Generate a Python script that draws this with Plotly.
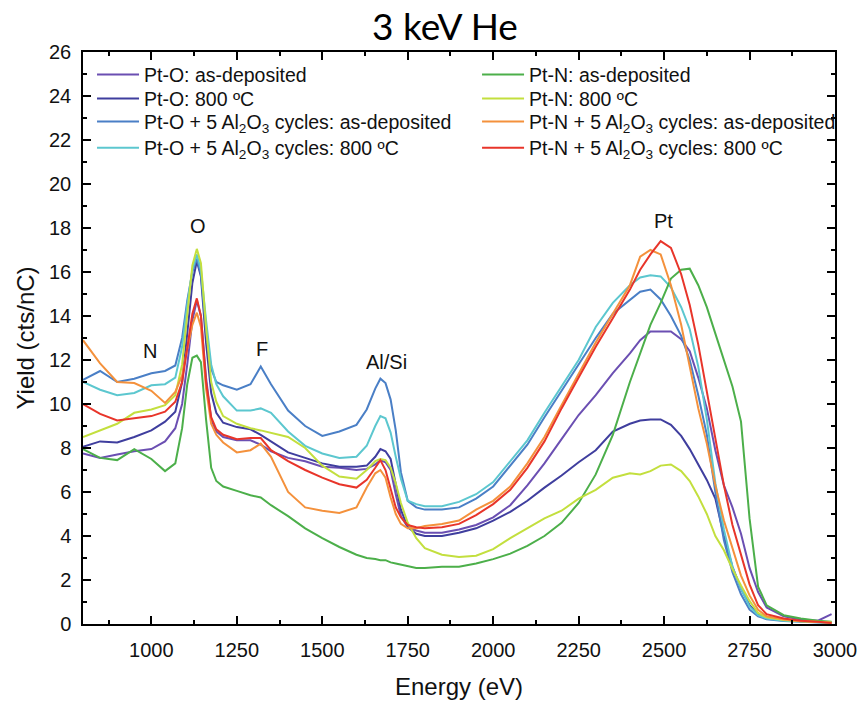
import plotly.graph_objects as go

# Common energy grid (eV)
energy = [800, 850, 900, 950, 1000, 1040, 1070, 1090, 1105, 1120, 1133, 1145, 1160, 1175, 1190, 1210,
          1250, 1290, 1320, 1350, 1400, 1450, 1500, 1550, 1600, 1630, 1655, 1670, 1685, 1700, 1715, 1730,
          1750, 1775, 1800, 1850, 1900, 1950, 2000, 2050, 2100, 2150, 2200, 2250, 2300, 2350, 2400, 2430,
          2460, 2490, 2520, 2550, 2575, 2600, 2625, 2650, 2675, 2700, 2725, 2750, 2775, 2800, 2850, 2900,
          2950, 2990]

# Yield (cts/nC) for each sample
pto_asdep = [7.75, 7.55, 7.7, 7.85, 7.95, 8.3, 8.9, 10.0, 11.8, 13.8, 14.7, 14.0, 11.2, 9.3, 8.75, 8.5,
             8.35, 8.35, 8.15, 7.85, 7.55, 7.4, 7.15, 7.1, 7.0, 7.05, 7.25, 7.45, 7.35, 7.0, 5.9, 4.9,
             4.4, 4.25, 4.15, 4.15, 4.3, 4.5, 4.85, 5.4, 6.3, 7.3, 8.4, 9.5, 10.4, 11.4, 12.3, 12.9,
             13.3, 13.3, 13.3, 12.95, 12.4, 11.2, 9.8, 7.9, 6.3, 5.3, 4.1, 2.55, 1.45, 0.75, 0.35, 0.2,
             0.15, 0.45]
pto_800 = [8.05, 8.3, 8.25, 8.5, 8.8, 9.2, 9.65, 11.0, 13.2, 15.5, 16.5, 15.8, 12.8, 10.5, 9.6, 9.15,
           8.95, 8.85, 8.6, 8.3, 7.8, 7.55, 7.3, 7.15, 7.15, 7.2, 7.6, 7.95, 7.85, 7.5, 6.4, 5.2,
           4.4, 4.1, 4.0, 4.0, 4.15, 4.35, 4.7, 5.1, 5.6, 6.2, 6.75, 7.35, 7.9, 8.75, 9.1, 9.25,
           9.3, 9.3, 9.05, 8.55, 7.95, 7.25, 6.55, 5.7, 4.0, 2.6, 1.6, 0.85, 0.45, 0.3, 0.2, 0.12,
           0.1, 0.08]
pto_al_asdep = [11.1, 11.5, 11.0, 11.15, 11.4, 11.5, 11.75, 13.0, 14.7, 16.0, 16.6, 15.9, 13.3, 11.6, 11.0, 10.85,
                10.65, 10.9, 11.7, 10.9, 9.7, 9.0, 8.55, 8.75, 9.05, 9.75, 10.7, 11.15, 10.95, 10.2, 8.8, 6.9,
                5.6, 5.3, 5.2, 5.2, 5.3, 5.7, 6.25, 7.2, 8.15, 9.4, 10.6, 11.85, 13.0, 14.1, 14.7, 15.1,
                15.2, 14.75, 14.0, 13.1, 12.0, 10.4, 8.6, 6.0, 3.8, 2.35, 1.35, 0.65, 0.35, 0.22, 0.14, 0.1,
                0.08, 0.05]
pto_al_800 = [11.0, 10.65, 10.4, 10.5, 10.85, 10.9, 11.2, 12.6, 14.5, 16.1, 16.8, 16.1, 13.8, 11.8, 10.9, 10.35,
              9.7, 9.7, 9.8, 9.6, 8.75, 8.1, 7.75, 7.55, 7.6, 8.1, 9.0, 9.45, 9.35, 8.7, 7.6, 6.6,
              5.6, 5.45, 5.35, 5.35, 5.55, 5.9, 6.45, 7.4, 8.35, 9.6, 10.8, 12.0, 13.5, 14.6, 15.4, 15.75,
              15.85, 15.8, 15.3, 14.4, 13.4, 11.7, 9.3, 6.4, 4.3, 2.6, 1.6, 0.8, 0.4, 0.25, 0.15, 0.1,
              0.08, 0.05]
ptn_asdep = [7.95, 7.55, 7.45, 7.95, 7.5, 6.95, 7.3, 8.9, 10.9, 12.1, 12.2, 11.9, 9.3, 7.1, 6.5, 6.25,
             6.05, 5.85, 5.75, 5.4, 4.9, 4.35, 3.9, 3.5, 3.15, 3.0, 2.95, 2.9, 2.9, 2.8, 2.75, 2.7,
             2.6, 2.55, 2.55, 2.6, 2.6, 2.75, 2.95, 3.2, 3.55, 4.0, 4.6, 5.5, 6.8, 8.6, 11.0, 12.3,
             13.6, 14.6, 15.7, 16.1, 16.15, 15.4, 14.4, 13.2, 12.0, 10.8, 9.2, 4.8, 1.7, 0.85, 0.4, 0.25,
             0.15, 0.1]
ptn_800 = [8.5, 8.8, 9.1, 9.6, 9.75, 9.95, 10.4, 11.8, 14.0, 16.3, 17.05, 16.4, 13.5, 11.0, 10.1, 9.45,
           9.1, 8.9, 8.8, 8.7, 8.5, 8.0, 7.2, 6.7, 6.6, 7.0, 7.4, 7.5, 7.45, 7.1, 6.4, 5.5,
           4.6, 3.9, 3.45, 3.15, 3.05, 3.1, 3.4, 3.9, 4.35, 4.8, 5.15, 5.7, 6.1, 6.65, 6.85, 6.8,
           6.95, 7.2, 7.25, 6.95, 6.5, 5.8, 5.0, 4.0, 3.35, 2.5, 1.75, 1.05, 0.5, 0.3, 0.18, 0.12,
           0.1, 0.08]
ptn_al_asdep = [12.9, 11.85, 11.0, 10.95, 10.6, 10.05, 10.55, 11.3, 12.5, 13.6, 14.15, 13.5, 10.7, 9.1, 8.6, 8.25,
                7.8, 7.9, 8.2, 7.6, 6.0, 5.3, 5.15, 5.05, 5.3, 6.2, 6.85, 7.0, 6.65, 5.75, 5.0, 4.55,
                4.35, 4.35, 4.45, 4.55, 4.7, 5.2, 5.6, 6.25, 7.3, 8.5, 9.95, 11.4, 12.8, 14.1, 15.4, 16.7,
                17.0, 16.8, 15.4, 13.6, 11.7, 9.8, 8.2, 6.3, 4.7, 3.4, 2.2, 1.3, 0.65, 0.35, 0.2, 0.12,
                0.1, 0.06]
ptn_al_800 = [10.0, 9.55, 9.25, 9.35, 9.45, 9.65, 10.1, 11.0, 12.6, 14.1, 14.8, 14.0, 11.0, 9.4, 8.85, 8.6,
              8.4, 8.45, 8.45, 7.9, 7.4, 7.0, 6.65, 6.35, 6.2, 6.55, 7.1, 7.45, 7.0, 6.1, 5.3, 4.85,
              4.5, 4.4, 4.35, 4.4, 4.55, 4.95, 5.45, 6.1, 7.1, 8.3, 9.8, 11.2, 12.6, 13.9, 15.2, 16.1,
              16.8, 17.4, 17.1, 15.9, 14.5, 12.7, 10.6, 8.5, 6.3, 4.5, 3.1, 1.8, 0.85, 0.45, 0.25, 0.15,
              0.1, 0.05]

al2o3 = "Al<sub>2</sub>O<sub>3</sub>"
# (label, values, colour, legend column, legend row)
series = [
    ("Pt-O: as-deposited", pto_asdep, "#6b4fb2", 0, 0),
    ("Pt-O: 800 ºC", pto_800, "#3f3e9e", 0, 1),
    (f"Pt-O + 5 {al2o3} cycles: as-deposited", pto_al_asdep, "#4a7fc6", 0, 2),
    (f"Pt-O + 5 {al2o3} cycles: 800 ºC", pto_al_800, "#5cc7cf", 0, 3),
    ("Pt-N: as-deposited", ptn_asdep, "#4caf4a", 1, 0),
    ("Pt-N: 800 ºC", ptn_800, "#c3df3e", 1, 1),
    (f"Pt-N + 5 {al2o3} cycles: as-deposited", ptn_al_asdep, "#f4913c", 1, 2),
    (f"Pt-N + 5 {al2o3} cycles: 800 ºC", ptn_al_800, "#e8352a", 1, 3),
]

peak_names = ["N", "O", "F", "Al/Si", "Pt"]
peak_x = [995, 1136, 1323, 1688, 2497]
peak_y = [12.4, 18.1, 12.5, 11.9, 18.3]

font_main = "Liberation Sans, Arial, sans-serif"

# legend placement in paper coordinates: one entry per legend box
legend_col_x = [0.012, 0.524]
legend_row_y = [0.960, 0.918, 0.878, 0.832]

fig = go.Figure()
legend_layouts = {}
for i, (name, vals, color, col, row) in enumerate(series):
    key = "legend" if i == 0 else f"legend{i + 1}"
    fig.add_trace(go.Scatter(x=energy, y=vals, mode="lines", name=name, showlegend=True,
                             line=dict(color=color, width=2), legend=key))
    legend_layouts[key] = dict(
        x=legend_col_x[col], y=legend_row_y[row], xanchor="left", yanchor="middle",
        bgcolor="rgba(0,0,0,0)", font=dict(family=font_main, size=19.5, color="#111"),
        itemwidth=42, borderwidth=0, visible=True,
    )

for name, px, py in zip(peak_names, peak_x, peak_y):
    fig.add_annotation(x=px, y=py, text=name, showarrow=False,
                       font=dict(family=font_main, size=20, color="#111"))

axis_common = dict(
    showline=True, linecolor="black", linewidth=1.5, mirror="ticks",
    ticks="inside", ticklen=8, tickwidth=1.5, tickcolor="black",
    showgrid=False, zeroline=False, automargin=False,
    tickfont=dict(family=font_main, size=20, color="#111"),
)

fig.update_layout(
    width=864, height=704,
    showlegend=True,
    margin=dict(l=83, r=29, t=52, b=80, autoexpand=False),
    paper_bgcolor="white", plot_bgcolor="white",
    title=dict(text="3 keV He", x=0.515, xanchor="center", y=0.962, yanchor="middle",
               font=dict(family="Lato, Carlito, sans-serif", size=37, color="black")),
    xaxis=dict(range=[800, 3000], tickmode="array",
               tickvals=[1000, 1250, 1500, 1750, 2000, 2250, 2500, 2750, 3000],
               minor=dict(dtick=125, tick0=750, ticks="inside", ticklen=4, tickcolor="black"),
               ticklabelstandoff=7,
               title=dict(text="Energy (eV)", font=dict(family=font_main, size=24, color="#111"), standoff=18),
               **axis_common),
    yaxis=dict(range=[0, 26], dtick=2,
               minor=dict(dtick=1, ticks="inside", ticklen=4, tickcolor="black"),
               ticklabelstandoff=6,
               title=dict(text="Yield (cts/nC)", font=dict(family=font_main, size=24, color="#111"), standoff=8),
               **axis_common),
    **legend_layouts,
)

fig.write_html("out.html")
